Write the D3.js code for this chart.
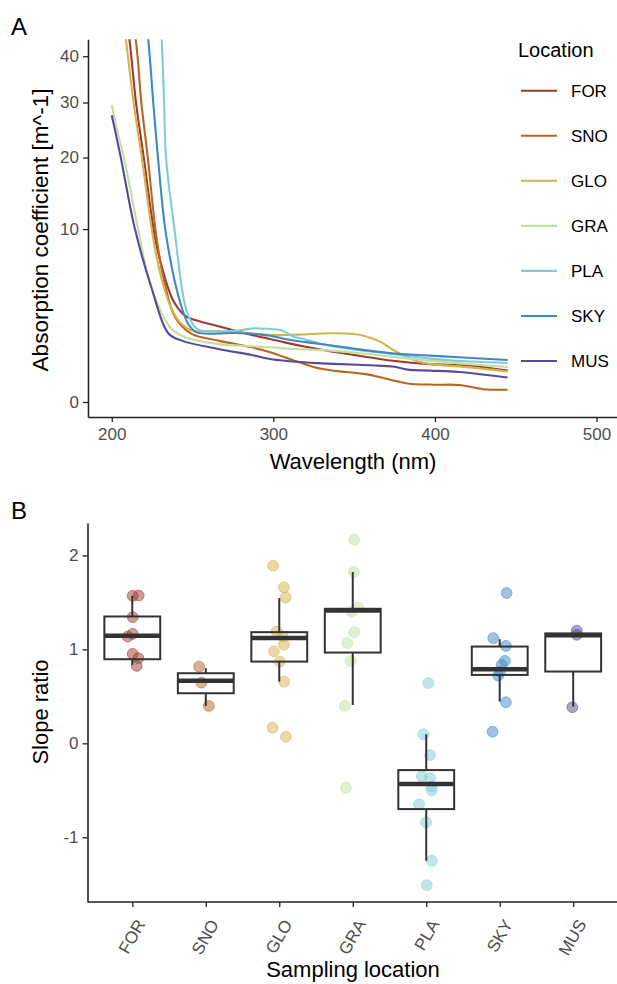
<!DOCTYPE html>
<html>
<head>
<meta charset="utf-8">
<script src="https://cdn.jsdelivr.net/npm/d3@7"></script>
<style>
  body { margin: 0; background: #fff; }
  text { font-family: "Liberation Sans", Arial, sans-serif; }
</style>
</head>
<body>
<svg id="chart" width="617" height="984"></svg>
<script>
// locations, colours follow the figure legend
const locations = ["FOR", "SNO", "GLO", "GRA", "PLA", "SKY", "MUS"];
const locColors = ["#9c3b2e", "#b8661f", "#d6b24c", "#c4dea0", "#7fcdd3", "#3f88c8", "#594b9a"];

// panel A: absorption spectra, [wavelength nm, coefficient m^-1]
const specFOR = [[200, 80], [205, 60], [210.9, 44], [215, 30], [219.8, 20], [226.8, 9], [232, 5.6], [238.1, 3.43], [245.4, 2.49], [251.5, 2.25], [260, 2.05], [276.3, 1.7], [290, 1.45], [298, 1.33], [307, 1.19], [320, 1.02], [335, 0.86], [350, 0.74], [374, 0.57], [397, 0.48], [422, 0.44], [445, 0.33]];
const specSNO = [[200, 95], [207, 62], [214.8, 44], [218.3, 30], [222.3, 20], [227.8, 8.9], [233, 4.6], [239.2, 2.4], [249.5, 1.55], [266, 1.26], [286.6, 1.0], [298, 0.83], [307, 0.67], [318, 0.5], [329.6, 0.37], [345, 0.3], [357, 0.26], [372, 0.17], [383, 0.115], [400, 0.1], [415, 0.097], [430, 0.055], [445, 0.05]];
const specGLO = [[200, 85], [205, 58], [208.8, 44], [213.5, 30], [218.6, 20], [225.7, 8.9], [231, 5.0], [237.1, 2.89], [242.3, 2.12], [249.5, 1.72], [266, 1.68], [286.6, 1.58], [298, 1.5], [315, 1.52], [335, 1.58], [350, 1.55], [357, 1.45], [366, 1.22], [374, 0.92], [383, 0.66], [394, 0.5], [422, 0.4], [445, 0.31]];
const specGRA = [[200, 29.5], [203.5, 24.5], [207.5, 20], [217.5, 8.9], [222, 5.6], [228.8, 3.1], [237, 1.78], [245.4, 1.4], [266, 1.12], [286.6, 1.04], [298, 1.0], [310, 0.95], [330, 0.9], [350, 0.82], [372, 0.69], [397, 0.57], [415, 0.5], [445, 0.41]];
const specPLA = [[200, 200], [222, 90], [228, 62], [230.9, 44], [232.4, 30], [233.6, 20], [238.8, 10], [245.4, 3.1], [249.5, 2.12], [253.6, 1.75], [276.3, 1.7], [288.7, 1.82], [298, 1.78], [305, 1.72], [312, 1.45], [320, 1.3], [335, 1.06], [350, 0.92], [374, 0.77], [397, 0.63], [422, 0.55], [445, 0.51]];
const specSKY = [[200, 150], [215, 75], [222.6, 44], [225.7, 30], [228.6, 20], [233.5, 9.5], [241.2, 3.78], [247.4, 2.03], [252.6, 1.62], [276.3, 1.59], [298, 1.47], [307, 1.33], [320, 1.2], [335, 1.08], [350, 0.95], [372, 0.8], [397, 0.72], [415, 0.67], [445, 0.59]];
const specMUS = [[200, 27.5], [205.6, 20], [214, 10.3], [224.8, 4.27], [235, 1.58], [243.3, 1.26], [266, 0.94], [286.6, 0.74], [298, 0.62], [307, 0.57], [330, 0.5], [360, 0.45], [374, 0.42], [383, 0.35], [397, 0.33], [415, 0.3], [445, 0.2]];
const spectra = [specFOR, specSNO, specGLO, specGRA, specPLA, specSKY, specMUS];

const wlTicks = [200, 300, 400, 500];
const absTicks = [0, 10, 20, 30, 40];

// panel B: slope ratio per sample, with jitter (fraction of category step)
const slopeFOR = [1.57, 1.574, 1.343, 1.165, 1.137, 0.952, 0.906, 0.824];
const jitFOR = [0.005, 0.087, 0.005, 0.005, -0.063, 0.005, 0.082, 0.06];
const slopeSNO = [0.817, 0.646, 0.398];
const jitSNO = [-0.091, -0.059, 0.041];
const slopeGLO = [1.89, 1.66, 1.55, 1.19, 1.14, 1.05, 0.98, 0.87, 0.657, 0.166, 0.07];
const jitGLO = [-0.083, 0.063, 0.086, -0.037, 0.045, 0.063, -0.073, 0.008, 0.067, -0.091, 0.09];
const slopeGRA = [2.167, 1.823, 1.446, 1.40, 1.183, 1.066, 0.877, 0.398, -0.473];
const jitGRA = [0.02, 0.016, 0.075, -0.015, 0.02, -0.075, -0.029, -0.106, -0.093];
const slopePLA = [0.64, 0.096, -0.125, -0.35, -0.37, -0.46, -0.5, -0.65, -0.84, -1.25, -1.51];
const jitPLA = [0.029, -0.039, 0.052, -0.061, 0.052, 0.075, 0.075, -0.098, -0.003, 0.075, 0.007];
const slopeSKY = [1.6, 1.12, 1.037, 0.877, 0.835, 0.764, 0.72, 0.437, 0.124];
const jitSKY = [0.094, -0.088, 0.084, 0.071, 0.026, 0.003, -0.02, 0.084, -0.097];
const slopeMUS = [1.2, 1.155, 0.384];
const jitMUS = [0.048, 0.048, -0.012];
const slopes = [slopeFOR, slopeSNO, slopeGLO, slopeGRA, slopePLA, slopeSKY, slopeMUS];
const jitters = [jitFOR, jitSNO, jitGLO, jitGRA, jitPLA, jitSKY, jitMUS];

// box stats: [lower whisker, q1, median, q3, upper whisker]
const boxStats = [
  [0.835, 0.895, 1.144, 1.35, 1.57],
  [0.398, 0.533, 0.667, 0.746, 0.80],
  [0.657, 0.87, 1.12, 1.183, 1.546],
  [0.408, 0.966, 1.414, 1.432, 1.823],
  [-1.25, -0.70, -0.434, -0.285, 0.096],
  [0.444, 0.728, 0.789, 1.03, 1.109],
  [0.39, 0.764, 1.15, 1.17, 1.17]
];
const slopeTicks = [-1, 0, 1, 2];

const svg = d3.select("#chart");
const ink = "#222";
const tickGrey = "#4d4d4d";

function styleAxis(g) {
  g.select(".domain").attr("stroke", ink).attr("stroke-width", 1.6);
  g.selectAll(".tick line").attr("stroke", ink).attr("stroke-width", 1.3);
  g.selectAll(".tick text").attr("fill", tickGrey).style("font-size", "17px")
    .style("font-family", "Liberation Sans, Arial, sans-serif");
}

// ---------- panel A ----------
const xA = d3.scaleLinear().domain([185.3, 512.7]).range([88, 617]);
// square-root transformed y axis
const yA = d3.scaleLinear().domain([-0.2745, 6.634]).range([417, 39.3]);

svg.append("defs").append("clipPath").attr("id", "clipA")
  .append("rect").attr("x", 88).attr("y", 39.3).attr("width", 529).attr("height", 377.7);

const line = d3.line()
  .x(d => xA(d[0]))
  .y(d => yA(Math.sqrt(d[1])))
  .curve(d3.curveCatmullRom.alpha(0.5));

svg.append("g").attr("clip-path", "url(#clipA)")
  .selectAll("path").data(spectra).join("path")
  .attr("d", line)
  .attr("fill", "none")
  .attr("stroke", (d, i) => locColors[i])
  .attr("stroke-width", 2.1);

svg.append("g").attr("transform", "translate(0,417)")
  .call(d3.axisBottom(xA).tickValues(wlTicks).tickSize(5).tickPadding(6).tickSizeOuter(0))
  .call(styleAxis);

svg.append("g").attr("transform", "translate(88,0)")
  .call(d3.axisLeft(yA).tickValues(absTicks.map(Math.sqrt))
    .tickFormat(v => Math.round(v * v)).tickSize(5).tickPadding(4).tickSizeOuter(0))
  .call(styleAxis);

svg.append("text").attr("x", 353).attr("y", 469).attr("text-anchor", "middle")
  .style("font-size", "22px").text("Wavelength (nm)");
svg.append("text").attr("transform", "translate(48,230) rotate(-90)").attr("text-anchor", "middle")
  .style("font-size", "22.5px").text("Absorption coefficient [m^-1]");
svg.append("text").attr("x", 11).attr("y", 35).style("font-size", "24px").text("A");

// legend
const legend = svg.append("g");
legend.append("text").attr("x", 518).attr("y", 57).style("font-size", "20px").text("Location");
const item = legend.selectAll("g.item").data(locations).join("g")
  .attr("class", "item")
  .attr("transform", (d, i) => `translate(0,${90.7 + i * 45.05})`);
item.append("line").attr("x1", 521).attr("x2", 557).attr("stroke", (d, i) => locColors[i]).attr("stroke-width", 2.1);
item.append("text").attr("x", 571).attr("y", 6).style("font-size", "17px").text(d => d);

// ---------- panel B ----------
const xB = d3.scalePoint().domain(locations).range([132.3, 573.2]);
const step = xB.step();
const yB = d3.scaleLinear().domain([-1.689, 2.345]).range([902, 523]);
const boxW = 0.76 * step;

const pts = [];
slopes.forEach((arr, i) => arr.forEach((v, j) => pts.push({ loc: locations[i], c: locColors[i], v: v, j: jitters[i][j] })));

svg.append("g").selectAll("circle").data(pts).join("circle")
  .attr("cx", d => xB(d.loc) + d.j * step)
  .attr("cy", d => yB(d.v))
  .attr("r", 5.4)
  .attr("fill", d => d.c).attr("fill-opacity", 0.5)
  .attr("stroke", d => d.c).attr("stroke-opacity", 0.55).attr("stroke-width", 1);

const boxes = svg.append("g").selectAll("g").data(boxStats).join("g")
  .attr("transform", (d, i) => `translate(${xB(locations[i])},0)`);
boxes.append("line").attr("y1", d => yB(d[0])).attr("y2", d => yB(d[1]))
  .attr("stroke", "#333").attr("stroke-width", 2);
boxes.append("line").attr("y1", d => yB(d[3])).attr("y2", d => yB(d[4]))
  .attr("stroke", "#333").attr("stroke-width", 2);
boxes.append("rect").attr("x", -boxW / 2).attr("width", boxW)
  .attr("y", d => yB(d[3])).attr("height", d => yB(d[1]) - yB(d[3]))
  .attr("fill", "none").attr("stroke", "#333").attr("stroke-width", 2);
boxes.append("line").attr("x1", -boxW / 2).attr("x2", boxW / 2)
  .attr("y1", d => yB(d[2])).attr("y2", d => yB(d[2]))
  .attr("stroke", "#333").attr("stroke-width", 4.5);

const gxB = svg.append("g").attr("transform", "translate(0,902)")
  .call(d3.axisBottom(xB).tickSize(5).tickSizeOuter(0))
  .call(styleAxis);
gxB.select(".domain").attr("d", "M88,0H617");
gxB.selectAll(".tick text")
  .attr("text-anchor", "end")
  .attr("dy", "0.35em")
  .attr("transform", "translate(8,19) rotate(-60)")
  .attr("x", 0).attr("y", 0);

svg.append("g").attr("transform", "translate(87.5,0)")
  .call(d3.axisLeft(yB).tickValues(slopeTicks).tickFormat(v => String(v))
    .tickSize(5).tickPadding(4).tickSizeOuter(0))
  .call(styleAxis);

svg.append("text").attr("x", 353).attr("y", 977).attr("text-anchor", "middle")
  .style("font-size", "22px").text("Sampling location");
svg.append("text").attr("transform", "translate(48,712) rotate(-90)").attr("text-anchor", "middle")
  .style("font-size", "22px").text("Slope ratio");
svg.append("text").attr("x", 11).attr("y", 519).style("font-size", "24px").text("B");
</script>
</body>
</html>
